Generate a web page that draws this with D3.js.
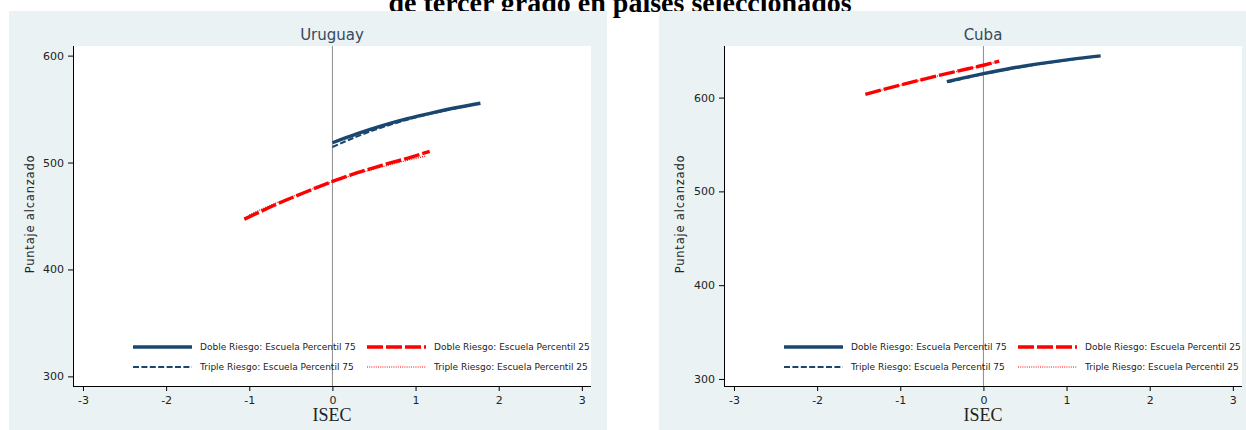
<!DOCTYPE html>
<html>
<head>
<meta charset="utf-8">
<script src="https://cdn.jsdelivr.net/npm/d3@7"></script>
<style>
  body { margin: 0; background: #ffffff; }
  text { font-family: "DejaVu Sans", Verdana, sans-serif; }
</style>
</head>
<body>
<svg id="chart" width="1246" height="430"></svg>
<script>
// ---- data ----
const countries = ["Uruguay", "Cuba"];
const xTicks = [-3, -2, -1, 0, 1, 2, 3];
const yTicks = [300, 400, 500, 600];
const seriesLabels = [
  "Doble Riesgo: Escuela Percentil 75",
  "Doble Riesgo: Escuela Percentil 25",
  "Triple Riesgo: Escuela Percentil 75",
  "Triple Riesgo: Escuela Percentil 25"
];

// predicted score by ISEC: [ISEC, puntaje]
const uruguayDoble75 = [[0, 518.5], [0.3, 527], [0.6, 534.5], [0.9, 541], [1.2, 546.5], [1.5, 551.5], [1.78, 555.5]];
const uruguayDoble25 = [[-1.06, 447], [-0.7, 460], [-0.35, 471.5], [0, 482.3], [0.3, 490.5], [0.6, 497.5], [0.9, 504], [1.17, 510.5]];
const uruguayTriple75 = [[0, 514.5], [0.3, 524.5], [0.6, 533], [0.9, 540], [1.2, 546], [1.5, 551], [1.75, 555]];
const uruguayTriple25 = [[-1.0, 451], [-0.7, 461.5], [-0.35, 472], [0, 482], [0.3, 489.5], [0.6, 496], [0.9, 502], [1.12, 506]];

const cubaDoble75 = [[-0.44, 617], [0, 625.5], [0.35, 631.5], [0.7, 636.5], [1.05, 640.8], [1.41, 644.5]];
const cubaDoble25 = [[-1.42, 603.5], [-1.05, 612.2], [-0.7, 620], [-0.35, 627.5], [0, 634.5], [0.19, 638.8]];
const cubaTriple75 = [[-0.42, 616.5], [0, 625], [0.35, 631], [0.7, 636], [1.05, 640.5], [1.38, 644]];
const cubaTriple25 = [[-1.38, 604.5], [-1.05, 612], [-0.7, 619.8], [-0.35, 627.3], [0, 634.3], [0.17, 638]];

const panelSeries = [
  [uruguayDoble75, uruguayDoble25, uruguayTriple75, uruguayTriple25],
  [cubaDoble75, cubaDoble25, cubaTriple75, cubaTriple25]
];

// ---- styling ----
const navy = "#1a476f", red = "#ff0000";
const seriesStyle = [
  { color: navy, width: 3.4, dash: null },
  { color: red,  width: 3.4, dash: "16,3" },
  { color: navy, width: 2,   dash: "6,2.4" },
  { color: red,  width: 1.2, dash: "1,1.2" }
];

const svg = d3.select("#chart");

// document heading behind the graph
svg.append("text")
  .attr("x", 620).attr("y", 12)
  .attr("text-anchor", "middle")
  .style("font-family", "'Liberation Serif', 'Times New Roman', serif")
  .style("font-weight", "bold")
  .style("font-size", "28px")
  .attr("fill", "#000")
  .text("de tercer grado en países seleccionados");

const panelLayout = [
  { bgX: 9,   plotX: 73,  yDomain: [291, 609] },
  { bgX: 659, plotX: 724, yDomain: [292.5, 655] }
];
const plotTop = 46, plotBottom = 386, plotW = 518;
const tickFmt = d => String(d).replace("\u2212", "-");

countries.forEach((name, i) => {
  const L = panelLayout[i];
  const g = svg.append("g");

  g.append("rect")
    .attr("x", L.bgX).attr("y", 11)
    .attr("width", 598).attr("height", 430)
    .attr("fill", "#eaf2f3");

  g.append("rect")
    .attr("x", L.plotX).attr("y", plotTop)
    .attr("width", plotW).attr("height", plotBottom - plotTop)
    .attr("fill", "#ffffff");

  const x = d3.scaleLinear().domain([-3.12, 3.11]).range([L.plotX, L.plotX + plotW]);
  const y = d3.scaleLinear().domain(L.yDomain).range([plotBottom, plotTop]);

  // panel title
  g.append("text")
    .attr("x", L.plotX + plotW / 2).attr("y", 40)
    .attr("text-anchor", "middle")
    .style("font-size", "15px")
    .attr("fill", "#34495e")
    .text(name);

  // reference line at ISEC = 0
  g.append("line")
    .attr("x1", x(0)).attr("x2", x(0))
    .attr("y1", plotTop).attr("y2", plotBottom)
    .attr("stroke", "#8c8c8c").attr("stroke-width", 1);

  // series
  const line = d3.line().x(d => x(d[0])).y(d => y(d[1])).curve(d3.curveMonotoneX);
  panelSeries[i].forEach((pts, k) => {
    const s = seriesStyle[k];
    g.append("path")
      .datum(pts)
      .attr("d", line)
      .attr("fill", "none")
      .attr("stroke", s.color)
      .attr("stroke-width", s.width)
      .attr("stroke-dasharray", s.dash)
      .attr("stroke-linecap", "butt");
  });

  // axes
  const xAxis = d3.axisBottom(x).tickValues(xTicks).tickSize(5).tickPadding(5).tickFormat(tickFmt);
  const gx = g.append("g").attr("transform", `translate(0,${plotBottom})`).call(xAxis);
  gx.select(".domain").attr("d", `M${L.plotX},0.5H${L.plotX + plotW}`).attr("stroke", "#000");
  gx.selectAll(".tick line").attr("stroke", "#000");
  gx.selectAll(".tick text").style("font-size", "11px").style("font-family", "'DejaVu Sans', sans-serif").attr("fill", "#222");

  const yAxis = d3.axisLeft(y).tickValues(yTicks).tickSize(5).tickPadding(4).tickFormat(tickFmt);
  const gy = g.append("g").attr("transform", `translate(${L.plotX},0)`).call(yAxis);
  gy.select(".domain").attr("d", `M0.5,${plotTop}V${plotBottom}`).attr("stroke", "#000");
  gy.selectAll(".tick line").attr("stroke", "#000");
  gy.selectAll(".tick text").style("font-size", "11px").style("font-family", "'DejaVu Sans', sans-serif").attr("fill", "#222");

  // axis titles
  g.append("text")
    .attr("transform", `translate(${L.bgX + 21},${(plotTop + plotBottom) / 2 - 2}) rotate(-90)`)
    .attr("text-anchor", "middle")
    .attr("dy", "0.35em")
    .style("font-size", "11.5px")
    .style("letter-spacing", "0.8px")
    .attr("fill", "#222")
    .text("Puntaje alcanzado");

  g.append("text")
    .attr("x", L.plotX + plotW / 2).attr("y", 421)
    .attr("text-anchor", "middle")
    .style("font-family", "'Liberation Serif', 'Times New Roman', serif")
    .style("font-size", "18px")
    .attr("fill", "#222")
    .text("ISEC");

  // legend (two columns, two rows)
  seriesLabels.forEach((label, k) => {
    const col = k % 2, row = Math.floor(k / 2);
    const lx = L.plotX + 60 + col * 234;
    const ly = 347 + row * 20;
    const s = seriesStyle[k];
    g.append("line")
      .attr("x1", lx).attr("x2", lx + 59)
      .attr("y1", ly).attr("y2", ly)
      .attr("stroke", s.color)
      .attr("stroke-width", s.width)
      .attr("stroke-dasharray", s.dash);
    g.append("text")
      .attr("x", lx + 67).attr("y", ly)
      .attr("dy", "0.35em")
      .style("font-size", "9px")
      .attr("fill", "#222")
      .text(label);
  });
});
</script>
</body>
</html>
